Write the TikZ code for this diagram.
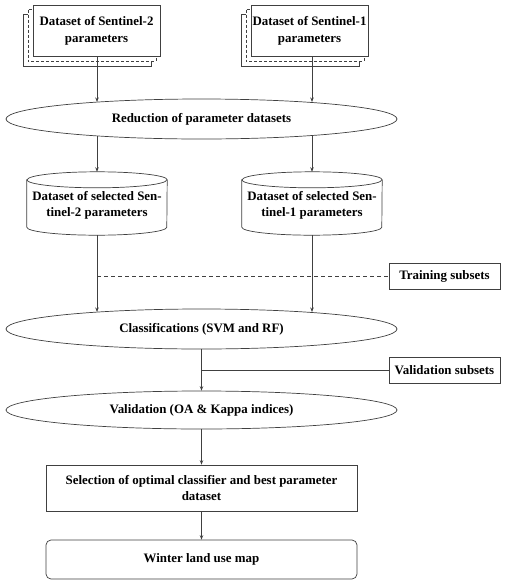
\documentclass[tikz,border=0pt]{standalone}
\usepackage{fontspec}
\setmainfont{Liberation Serif}
\usetikzlibrary{shapes.geometric,arrows.meta,backgrounds}
\begin{document}
\begin{tikzpicture}[x=1pt,y=1pt,
  every node/.style={font=\fontsize{12.9}{16.5}\selectfont\bfseries, align=center, inner sep=0pt},
  line/.style={draw=black!75, line width=0.7pt},
  arr/.style={line, -{Stealth[length=4.5pt,width=3.5pt]}},
  rbox/.style={line, fill=white, rectangle},
  oval/.style={line, fill=white, ellipse, minimum width=391pt, minimum height=40pt},
  cyl/.style={rectangle, minimum width=140pt, minimum height=63pt}
]
\useasboundingbox (0,0) rectangle (510,-582);

% stacked source boxes
\node[rbox, minimum width=127pt, minimum height=51pt] (s2) at (96.5,-31) {Dataset of Sentinel-2\\parameters};
\node[rbox, minimum width=117pt, minimum height=51pt] (s1) at (309.5,-31) {Dataset of Sentinel-1\\parameters};
\begin{scope}[on background layer]
  \foreach \n in {s2,s1}{
    \draw[line, fill=white] ([shift={(-9,-9)}]\n.north west) rectangle ([shift={(-9,-9)}]\n.south east);
    \draw[line, dashed, dash pattern=on 3pt off 2pt, fill=white] ([shift={(-4.5,-4.5)}]\n.north west) rectangle ([shift={(-4.5,-4.5)}]\n.south east);
  }
\end{scope}

\node[oval] (e1) at (201.5,-119) {Reduction of parameter datasets};

% cylinders
\node[cyl] (c2) at (97,-203.5) {};
\node[cyl] (c1) at (312,-203.5) {};
\foreach \n in {c2,c1}{
  \draw[line, fill=white] ([yshift=-8pt]\n.north west) -- ([yshift=8pt]\n.south west)
     arc[start angle=180, end angle=360, x radius=70pt, y radius=8pt]
     -- ([yshift=-8pt]\n.north east)
     arc[start angle=0, end angle=180, x radius=70pt, y radius=8pt] -- cycle;
  \draw[line] ([yshift=-8pt]\n.north west) arc[start angle=180, end angle=360, x radius=70pt, y radius=8pt];
}
\node at ([yshift=-2pt]c2.center) {Dataset of selected Sen-\\tinel-2 parameters};
\node at ([yshift=-2pt]c1.center) {Dataset of selected Sen-\\tinel-1 parameters};

\node[oval] (e2) at (201.5,-329) {Classifications (SVM and RF)};
\node[oval, minimum height=38pt] (e3) at (201.5,-410) {Validation (OA \& Kappa indices)};

\node[rbox, minimum width=111pt, minimum height=26pt] (tr) at (444.5,-276) {Training subsets};
\node[rbox, minimum width=111pt, minimum height=26pt] (va) at (444.5,-370) {Validation subsets};

\node[rbox, minimum width=311pt, minimum height=46pt] (sel) at (201.5,-488) {Selection of optimal classifier and best parameter\\dataset};
\node[rbox, rounded corners=5pt, minimum width=311pt, minimum height=39pt] (win) at (201.5,-559.5) {Winter land use map};

% connectors
\draw[arr] (c2.north |- s2.south) -- (c2.north |- e1.171);
\draw[arr] (c1.north |- s1.south) -- (c1.north |- e1.9);
\draw[arr] (e1.189 -| c2.north) -- (c2.north);
\draw[arr] (e1.351 -| c1.north) -- (c1.north);
\draw[arr] (c2.south) -- (c2.south |- e2.171);
\draw[arr] (c1.south) -- (c1.south |- e2.9);
\draw[line, dashed, dash pattern=on 4pt off 3pt] (c2.south |- tr.west) -- (tr.west);
\draw[arr] (e2.south) -- (e3.north);
\draw[line] (va.west) -- (va.west -| e2.south);
\draw[arr] (e3.south) -- (sel.north);
\draw[arr] (sel.south) -- (win.north);
\end{tikzpicture}
\end{document}
